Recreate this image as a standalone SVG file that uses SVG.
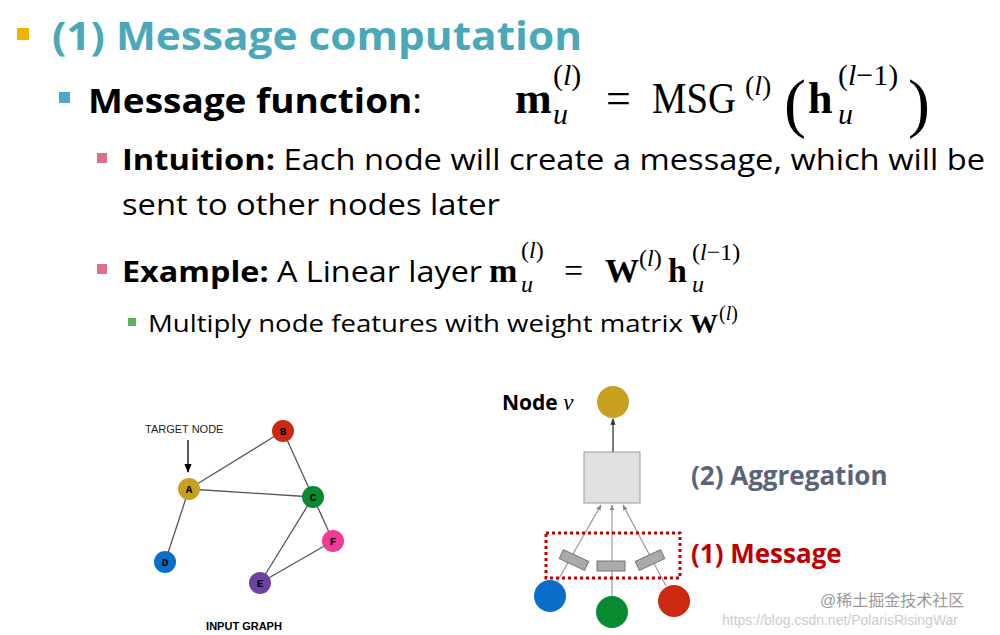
<svg xmlns="http://www.w3.org/2000/svg" width="1000" height="635" viewBox="0 0 1000 635">
<defs>
<style>
.s{font-family:"Open Sans","Noto Sans",sans-serif}
.m{font-family:"Liberation Serif","DejaVu Serif",serif}
.b{font-weight:bold}
.i{font-style:italic}
.e{stroke:#555;stroke-width:1.3}
.lt{font-family:"Courier New","Liberation Mono",monospace;font-weight:bold;font-size:11px;text-anchor:middle}
.ar{stroke:#999;stroke-width:1.2;marker-end:url(#ga)}
.pr{fill:#aaa;stroke:#777;stroke-width:1}
</style>
<marker id="ba" viewBox="0 0 10 10" refX="9" refY="5" markerWidth="7" markerHeight="7" orient="auto"><path d="M0,1 L10,5 L0,9Z" fill="#000"/></marker>
<marker id="ga" viewBox="0 0 10 10" refX="9" refY="5" markerWidth="5" markerHeight="5" orient="auto"><path d="M0,1 L10,5 L0,9Z" fill="#888"/></marker>
<marker id="da" viewBox="0 0 10 10" refX="9" refY="5" markerWidth="5" markerHeight="5" orient="auto"><path d="M0,1 L10,5 L0,9Z" fill="#333"/></marker>
</defs>
<rect width="1000" height="635" fill="#fff"/>
<g id="text">
<rect x="17" y="28" width="12" height="12" fill="#f0b400"/>
<text x="52" y="50" class="s b" font-size="40" fill="#4aa8b8" textLength="530" lengthAdjust="spacingAndGlyphs">(1) Message computation</text>
<rect x="59" y="92" width="11" height="11" fill="#4aa8c8"/>
<text x="88" y="113" class="s" font-size="34" textLength="334" lengthAdjust="spacingAndGlyphs"><tspan class="b">Message function</tspan>:</text>
<g class="m">
<text x="515" y="113" font-size="44" class="b">m</text>
<text x="553" y="124" font-size="30" class="i">u</text>
<text x="553" y="85" font-size="30">(<tspan class="i">l</tspan>)</text>
<text x="606" y="113" font-size="44">=</text>
<text x="652" y="113" font-size="44" textLength="84" lengthAdjust="spacingAndGlyphs">MSG</text>
<text x="745" y="95" font-size="28">(<tspan class="i">l</tspan>)</text>
<text x="784" y="125" font-size="66">(</text>
<text x="808" y="113" font-size="44" class="b">h</text>
<text x="838" y="124" font-size="30" class="i">u</text>
<text x="838" y="85" font-size="30">(<tspan class="i">l</tspan>−1)</text>
<text x="908" y="125" font-size="66">)</text>
</g>
<rect x="97" y="153" width="10" height="10" fill="#e0708a"/>
<text x="122" y="170" class="s" font-size="29" textLength="863" lengthAdjust="spacingAndGlyphs"><tspan class="b">Intuition:</tspan> Each node will create a message, which will be</text>
<text x="122" y="215" class="s" font-size="29" textLength="378" lengthAdjust="spacingAndGlyphs">sent to other nodes later</text>
<rect x="97" y="264" width="10" height="10" fill="#e0708a"/>
<text x="122" y="282" class="s" font-size="29" textLength="360" lengthAdjust="spacingAndGlyphs"><tspan class="b">Example:</tspan> A Linear layer</text>
<g class="m">
<text x="489" y="282" font-size="34" class="b">m</text>
<text x="521" y="292" font-size="24" class="i">u</text>
<text x="521" y="258" font-size="24">(<tspan class="i">l</tspan>)</text>
<text x="564" y="282" font-size="34">=</text>
<text x="605" y="282" font-size="34" class="b">W</text>
<text x="639" y="266" font-size="24">(<tspan class="i">l</tspan>)</text>
<text x="668" y="282" font-size="34" class="b">h</text>
<text x="692" y="292" font-size="24" class="i">u</text>
<text x="692" y="260" font-size="24">(<tspan class="i">l</tspan>−1)</text>
</g>
<rect x="128" y="318" width="8" height="8" fill="#5ab45a"/>
<text x="148" y="332" class="s" font-size="24" textLength="535" lengthAdjust="spacingAndGlyphs">Multiply node features with weight matrix</text>
<text x="690" y="333" class="m b" font-size="28">W</text>
<text x="719" y="320" class="m" font-size="20">(<tspan class="i">l</tspan>)</text>
</g>
<g id="connectors">
<line class="e" x1="189" y1="489" x2="283" y2="431"/>
<line class="e" x1="189" y1="489" x2="313" y2="497"/>
<line class="e" x1="189" y1="489" x2="165" y2="562"/>
<line class="e" x1="283" y1="431" x2="313" y2="497"/>
<line class="e" x1="313" y1="497" x2="260" y2="583"/>
<line class="e" x1="313" y1="497" x2="333" y2="541"/>
<line class="e" x1="333" y1="541" x2="260" y2="583"/>
<line x1="188" y1="440" x2="188" y2="472" stroke="#000" stroke-width="1.3" marker-end="url(#ba)"/>
<line x1="613" y1="452" x2="613" y2="419" stroke="#333" stroke-width="1.3" marker-end="url(#da)"/>
<line class="ar" x1="557" y1="582" x2="601" y2="505"/>
<line class="ar" x1="612" y1="596" x2="612" y2="505"/>
<line class="ar" x1="666" y1="586" x2="623" y2="505"/>
</g>
<g id="graph">
<text x="145" y="433" font-family="Liberation Sans,Arial,sans-serif" font-size="11" fill="#222">TARGET NODE</text>
<g id="A"><circle cx="189" cy="489" r="11" fill="#c8a020"/><text class="lt" x="189" y="493">A</text></g>
<g id="B"><circle cx="283" cy="431" r="11" fill="#cc2a10"/><text class="lt" x="283" y="435">B</text></g>
<g id="C"><circle cx="313" cy="497" r="11" fill="#0a8a30"/><text class="lt" x="313" y="501">C</text></g>
<g id="D"><circle cx="165" cy="562" r="11" fill="#0a6ec8"/><text class="lt" x="165" y="566">D</text></g>
<g id="E"><circle cx="260" cy="583" r="11" fill="#7040a0"/><text class="lt" x="260" y="587">E</text></g>
<g id="F"><circle cx="333" cy="541" r="11" fill="#f03c96"/><text class="lt" x="333" y="545">F</text></g>
<text x="244" y="630" text-anchor="middle" font-family="Liberation Sans,Arial,sans-serif" font-size="11" font-weight="bold">INPUT GRAPH</text>
</g>
<g id="gnn">
<text x="502" y="410" class="s b" font-size="21">Node <tspan class="m i" font-weight="normal" font-size="23">v</tspan></text>
<circle cx="613" cy="402" r="16" fill="#c8a020"/>
<rect x="584" y="452" width="56" height="51" fill="#e0e0e0" stroke="#999" stroke-width="1"/>
<rect x="546" y="533" width="134" height="45" fill="none" stroke="#c00000" stroke-width="3" stroke-dasharray="3,3"/>
<rect class="pr" x="560" y="555" width="28" height="10" transform="rotate(25 574 560)"/>
<rect class="pr" x="597" y="561" width="28" height="10"/>
<rect class="pr" x="636" y="555" width="28" height="10" transform="rotate(-25 650 560)"/>
<circle cx="550" cy="596" r="16" fill="#0a6ec8"/>
<circle cx="612" cy="612" r="16" fill="#0a8a30"/>
<circle cx="674" cy="601" r="16" fill="#cc2a10"/>
<text x="691" y="485" class="s b" font-size="26" fill="#5a6478">(2) Aggregation</text>
<text x="691" y="563" class="s b" font-size="26" fill="#c00000">(1) Message</text>
</g>
<g id="watermark" font-family="Liberation Sans,'Noto Sans CJK SC',sans-serif">
<text x="820" y="606" font-size="16" fill="#999">@稀土掘金技术社区</text>
<text x="722" y="625" font-size="14" fill="#ccc">https://blog.csdn.net/PolarisRisingWar</text>
</g>
</svg>
